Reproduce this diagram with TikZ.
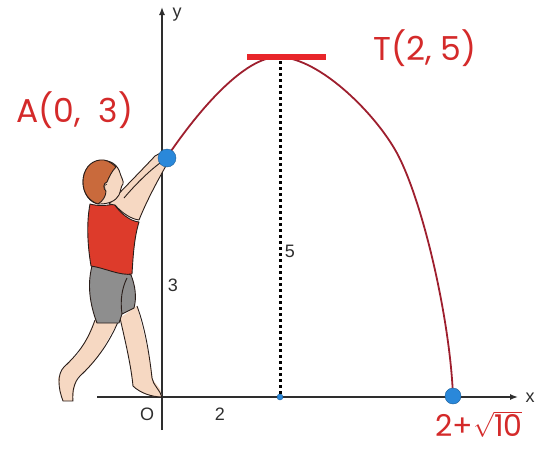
\documentclass[tikz,border=0pt]{standalone}
\usepackage{fontspec}
\setmainfont{Liberation Sans}
\newfontfamily\handfont{Poppins}
\usetikzlibrary{arrows.meta}
\definecolor{inkred}{HTML}{D42A2A}
\definecolor{curvered}{HTML}{9E1F2E}
\definecolor{barred}{HTML}{E8262A}
\definecolor{ballblue}{HTML}{2A88DA}
\definecolor{axisgray}{HTML}{2E2E2E}
\definecolor{skin}{HTML}{F6D8C2}
\definecolor{hair}{HTML}{C96A3C}
\definecolor{shirt}{HTML}{DD3B2B}
\definecolor{shorts}{HTML}{8E8E8E}
\definecolor{outline}{HTML}{2A1E1A}
\tikzset{
  axis/.style={draw=axisgray, line width=1.4pt, -{Latex[length=8pt,width=6pt]}},
  ticklabel/.style={text=axisgray, font=\fontsize{18}{18}\selectfont, inner sep=0pt},
  handlabel/.style={text=inkred, font=\handfont\fontsize{33}{33}\selectfont, inner sep=0pt},
  trajectory/.style={draw=curvered, line width=1.8pt},
  ball/.style={circle, fill=ballblue, draw=ballblue!70!black, line width=0.4pt, inner sep=0pt},
  body/.style={draw=outline, line width=0.9pt, line join=round},
}
\begin{document}
\begin{tikzpicture}[x=1pt, y=-1pt]
\useasboundingbox (0,0) rectangle (544,450);

% axes
\coordinate (xs) at (97,397);
\coordinate (xe) at (518,397);
\coordinate (ys) at (162,430);
\coordinate (ye) at (162,7);
\draw[axis] (xs) -- (xe);
\draw[axis] (ys) -- (ye);
\node[ticklabel] (xl) at (530,398) {x};
\node[ticklabel] (yl) at (177,15) {y};
\node[ticklabel] (ol) at (147,414) {O};
\node[ticklabel] (twol) at (220,414) {2};
\node[ticklabel] (threel) at (173,285) {3};
\node[ticklabel] (fivel) at (290,251) {5};

% the boy: back leg
\fill[skin] (95,320) -- (87,338) -- (78,354) -- (64,367) -- (58,378) -- (60,392) -- (63,401) -- (73,401) -- (74,390) -- (77,378) -- (89,368) -- (101,352) -- (111,334) -- (118,322) -- cycle;
\draw[body] (95,320) .. controls (88,340) and (80,352) .. (64,367) .. controls (57,374) and (58,388) .. (63,401) -- (73,401) .. controls (72,392) and (74,382) .. (80,376) .. controls (95,362) and (108,345) .. (118,322);
% front leg
\fill[skin] (120,318) -- (126,345) -- (131,370) -- (133,386) -- (142,393) -- (152,396) -- (162,397) -- (160,389) -- (153,380) -- (150,360) -- (145,338) -- (137,306) -- cycle;
\draw[body] (120,318) .. controls (125,340) and (131,365) .. (133,386) .. controls (140,393) and (152,397) .. (162,397) .. controls (160,390) and (153,385) .. (152,378) .. controls (150,360) and (146,330) .. (137,306);
% shorts
\filldraw[body, fill=shorts] (92,266) .. controls (87,285) and (90,305) .. (97,323) -- (119,323) -- (122,314) -- (134,308) .. controls (137,297) and (135,285) .. (131,275) .. controls (118,270) and (105,266) .. (92,266) -- cycle;
\draw[body] (122,314) .. controls (120,300) and (122,288) .. (127,278);
% tank top
\filldraw[body, fill=shirt] (90,204) .. controls (86,225) and (88,248) .. (91,266) .. controls (105,268) and (120,276) .. (132,274) .. controls (133,258) and (134,238) .. (139,222) .. controls (130,221) and (121,214) .. (114,204) .. controls (106,206) and (97,206) .. (90,204) -- cycle;
% arms reaching to the ball
\filldraw[body, fill=skin] (109,204) .. controls (124,188) and (140,172) .. (155,156) -- (164,151) -- (167,164) .. controls (158,180) and (147,200) .. (139,220) .. controls (131,219) and (122,213) .. (115,205) -- cycle;
\draw[body] (124,198) .. controls (135,185) and (148,172) .. (160,163);
% head: face, then hair over the back and top of the head
\filldraw[body, fill=skin] (100,161) .. controls (110,159) and (118,165) .. (120,173) .. controls (121,177) and (124,181) .. (123,184) .. controls (121,186) and (121,190) .. (119,195) .. controls (116,201) and (108,204) .. (100,204) .. controls (90,204) and (83,193) .. (83,182) .. controls (83,170) and (90,162) .. (100,161) -- cycle;
\filldraw[body, fill=hair] (100,160) .. controls (90,161) and (83,170) .. (83,182) .. controls (83,193) and (89,201) .. (98,204) .. controls (103,201) and (106,196) .. (106,191) .. controls (103,189) and (103,183) .. (107,182) .. controls (109,177) and (112,171) .. (116,167) .. controls (111,162) and (105,159) .. (100,160) -- cycle;
\draw[body, line width=0.6pt] (105,189) .. controls (104,186) and (105,184) .. (107,184);

% trajectory
\coordinate (V) at (278,57);
\coordinate (M) at (399,157);
\draw[trajectory] (167,157) .. controls (200,108) and (245,57) .. (V)
  .. controls (320,57) and (379,117) .. (M)
  .. controls (424,207) and (450,320) .. (453,396);
% vertex bar and dotted height
\coordinate (tl) at (247,57);
\coordinate (tr) at (326,57);
\coordinate (tm) at (280,61);
\draw[barred, line width=6pt] (tl) -- (tr);
\node[ball, minimum size=6pt] (foot) at (280,397) {};
\draw[black, line width=3pt, dash pattern=on 3pt off 3pt] (tm) -- (foot);

% points
\node[ball, minimum size=18pt] (A) at (167,158) {};
\node[ball, minimum size=16pt] (E) at (453,396) {};

% handwritten labels
\node[handlabel] (Alab) at (75,110) {A(0,\ \ 3)};
\node[handlabel] (Tlab) at (425,48) {T(2,\ 5)};
\node[handlabel, font=\handfont\fontsize{30}{30}\selectfont] (Elab) at (479,424) {2+$\sqrt{\hbox{\handfont\fontsize{30}{30}\selectfont 10}}$};
\end{tikzpicture}
\end{document}
